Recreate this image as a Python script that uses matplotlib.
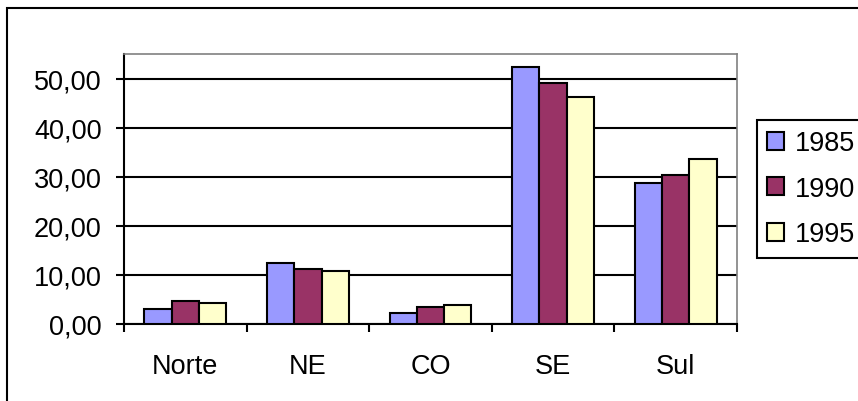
import numpy as np
import matplotlib.pyplot as plt
from matplotlib.patches import Rectangle
from matplotlib.ticker import FuncFormatter

regions = ['Norte', 'NE', 'CO', 'SE', 'Sul']
years = ['1985', '1990', '1995']
v1985 = [3.1, 12.4, 2.3, 52.4, 28.8]
v1990 = [4.7, 11.2, 3.5, 49.1, 30.3]
v1995 = [4.3, 10.8, 3.9, 46.3, 33.7]
colors = ['#9999FF', '#993366', '#FFFFCC']

plt.rcParams['font.family'] = ['Liberation Sans', 'DejaVu Sans']
FS = 19.5

fig = plt.figure(figsize=(8.58, 4.02), dpi=100)
W, H = 858, 402

# outer chart frame (cropped at right and bottom)
fig.patches.append(Rectangle((7 / W, -0.1), 2.0, 1 - 9 / H + 0.1,
                             transform=fig.transFigure, fill=False,
                             edgecolor='black', linewidth=1.5))

ax = fig.add_axes([124 / W, 1 - 325 / H, (737 - 124) / W, (325 - 55) / H])

x = np.arange(len(regions))
bw = 1 / 4.5
for i, (vals, c) in enumerate(zip([v1985, v1990, v1995], colors)):
    ax.bar(x + (i - 1) * bw, vals, width=bw, color=c, edgecolor='black',
           linewidth=1.5, label=years[i], zorder=3)

ax.set_xlim(-0.5, len(regions) - 0.5)
ax.set_ylim(0, 55)
ax.set_yticks(np.arange(0, 51, 10))
ax.yaxis.set_major_formatter(FuncFormatter(lambda v, p: f'{v:.2f}'.replace('.', ',')))
ax.yaxis.grid(True, color='black', linewidth=1.5, zorder=0)

ax.set_xticks(x)
ax.set_xticklabels(regions)
ax.set_xticks(np.arange(-0.5, len(regions)), minor=True)
ax.tick_params(axis='x', which='major', length=0, labelsize=FS, pad=21)
ax.tick_params(axis='x', which='minor', length=6, width=1.5, direction='out')
ax.tick_params(axis='y', length=6, width=1.5, direction='out', labelsize=FS, pad=10)

for s in ['top', 'right']:
    ax.spines[s].set_color('#808080')
    ax.spines[s].set_linewidth(1.2)
for s in ['left', 'bottom']:
    ax.spines[s].set_color('black')
    ax.spines[s].set_linewidth(1.5)

leg = fig.legend(loc='upper left', bbox_to_anchor=(757 / W, 1 - 121 / H),
                 fontsize=FS, handlelength=0.62, handleheight=0.62,
                 handletextpad=0.4, labelspacing=0.72, borderpad=0.38,
                 borderaxespad=0, fancybox=False, framealpha=1,
                 edgecolor='black')
leg.get_frame().set_linewidth(1.5)

fig.savefig('out.png', dpi=100)
